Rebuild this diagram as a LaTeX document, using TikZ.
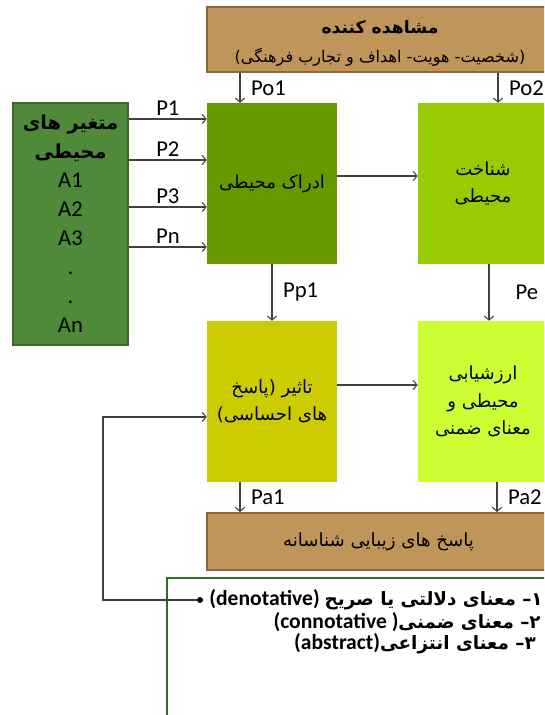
\documentclass[tikz,border=0pt]{standalone}
\usepackage{fontspec}
\setmainfont{Carlito}
\newfontfamily\fa[Script=Arabic, Scale=0.85]{DejaVu Sans}
\TeXXeTstate=1
\usetikzlibrary{arrows.meta}
\newcommand\fatxt[1]{{\fa\beginR #1\endR}}
\definecolor{brn}{HTML}{C0955A}
\definecolor{brnd}{HTML}{8A6A3A}
\definecolor{envc}{HTML}{4F8A3B}
\definecolor{envd}{HTML}{3A6A2A}
\definecolor{ca}{HTML}{669900}
\definecolor{cb}{HTML}{99CC00}
\definecolor{cc}{HTML}{CCCC00}
\definecolor{cd}{HTML}{CCFF33}
\definecolor{grn}{HTML}{356B2A}
\definecolor{arrc}{HTML}{404040}
\tikzset{box/.style = {minimum width=97.5pt, minimum height=120.75pt, inner sep=0pt, align=center,
        font=\fontsize{16}{20.5}\selectfont},
    tan/.style = {fill=brn, draw=brnd, line width=1.5pt, inner sep=0pt, align=center},
    lbl/.style = {font=\fontsize{17}{20}\selectfont, inner sep=2pt},
    rlbl/.style = {lbl, right, xshift=5.9pt},
    arr/.style = {->, draw=arrc, line width=0.8pt},
    item/.style = {anchor=east, inner sep=0pt, font=\bfseries\fontsize{16.2}{20}\selectfont}}

\begin{document}
\begin{tikzpicture}[x=0.75pt, y=-0.75pt, >={Straight Barb[length=3pt, width=7pt]}]
    \useasboundingbox (0,0) rectangle (544,715);
    \clip (0,0) rectangle (544,715);

    \node[tan, minimum width=259.5pt, minimum height=48.75pt] (obs) at (380,39.5) {};
    \node[font=\bfseries\fontsize{15.2}{18}\selectfont] (obst) at (380,27) {\fatxt{مشاهده کننده}};
    \node[font=\fontsize{14.2}{16}\selectfont] (obss) at (380,57)
        {\fatxt{(شخصیت- هویت- اهداف  و تجارب فرهنگی)}};
    \node[fill=envc, draw=envd, line width=1.5pt, minimum width=86.25pt, minimum height=181.5pt,
        align=center, inner sep=0pt, font=\fontsize{17}{21.75}\selectfont] (env) at (70.5,224)
        {\textbf{\fatxt{متغیر های}}\\\textbf{\fatxt{محیطی}}\\A1\\A2\\A3\\.\\.\\An};

    \node[box, fill=ca] (per) at (272,183.5) {\fatxt{ادراک محیطی}};
    \node[box, fill=cb] (cog) at (483,183.5) {\fatxt{شناخت}\\\fatxt{محیطی}};
    \node[box, fill=cc] (aff) at (272,401.5) {\fatxt{تاثیر (پاسخ}\\\fatxt{های احساسی)}};
    \node[box, fill=cd] (eva) at (483,401.5) {\fatxt{ارزشیابی}\\\fatxt{محیطی و}\\\fatxt{معنای ضمنی}};
    \node[tan, minimum width=257.25pt, minimum height=42.75pt, font=\fontsize{16}{20}\selectfont]
        (resp) at (378.5,541.5) {\fatxt{پاسخ های زیبایی شناسانه}};
    \node[draw=grn, line width=1.5pt, minimum width=324.75pt, minimum height=121.5pt] (mean) at (383.5,659) {};

    \foreach \n/\y in {1/119, 2/160, 3/207, n/247}
        \draw[arr] (env.east |- 0,\y) -- (per.west |- 0,\y) node[lbl, midway, above] {P\n};
    \draw[arr] (obs.south -| 240,0) -- (per.north -| 240,0) node[rlbl, midway] {Po1};
    \draw[arr] (obs.south -| 498,0) -- (cog.north -| 498,0) node[rlbl, midway] {Po2};
    \draw[arr] (per.east |- 0,176) -- (cog.west |- 0,176);
    \draw[arr] (per) -- (aff) node[rlbl, midway] {Pp1};
    \draw[arr] (cog.south -| 489,0) -- (eva.north -| 489,0) node[rlbl, midway, xshift=11.6pt] {Pe};
    \draw[arr] (aff.east |- 0,385) -- (eva.west |- 0,385);
    \draw[arr] (aff.south -| 240,0) -- (resp.north -| 240,0) node[rlbl, midway] {Pa1};
    \draw[arr] (eva.south -| 497,0) -- (resp.north -| 497,0) node[rlbl, midway] {Pa2};

    \node[item] (m1) at (543,600) {(denotative) \fatxt{۱– معنای دلالتی یا صریح}};
    \node[item] (m2) at (541,622) {(connotative )\fatxt{۲– معنای ضمنی}};
    \node[item] (m3) at (536,644) {(abstract)\fatxt{۳– معنای انتزاعی}};
    \node[circle, fill=black, inner sep=0pt, minimum size=4.5pt] (dot) at (200,600) {};
    \coordinate (fb) at (103,600);
    \draw[arr] (dot) -- (fb) |- ([yshift=-11.6pt]aff.west);
\end{tikzpicture}
\end{document}
